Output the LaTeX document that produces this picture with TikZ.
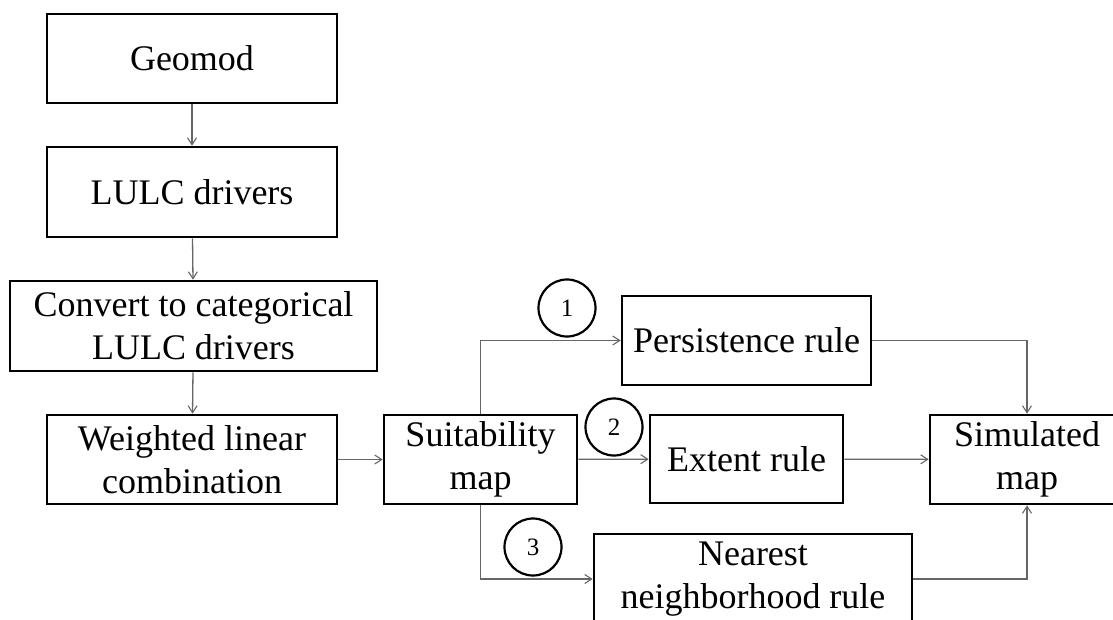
\documentclass[tikz,border=0pt]{standalone}
\usepackage{fontspec}
\setmainfont{Liberation Serif}
\usetikzlibrary{arrows.meta}
\begin{document}
\begin{tikzpicture}[x=1pt,y=-1pt,
  box/.style={draw=black,line width=2.6pt,rectangle,inner sep=0pt,align=center,
    font=\fontsize{36}{43}\selectfont},
  num/.style={draw=black,line width=2.2pt,circle,minimum size=57pt,inner sep=0pt,
    font=\fontsize{25}{30}\selectfont},
  conn/.style={draw=black!60,line width=1.3pt,-{Straight Barb[length=7pt,width=9pt,line width=1.1pt]}}]
\useasboundingbox (0,0) rectangle (1113,619);
\clip (0,0) rectangle (1113,619);
\node[box,minimum width=290pt,minimum height=89pt] (geomod) at (192,58.5) {Geomod};
\node[box,minimum width=290pt,minimum height=90pt] (lulc) at (192,192) {LULC drivers};
\node[box,minimum width=367pt,minimum height=90pt] (convert) at (193.5,326) {Convert to categorical\\LULC drivers};
\node[box,minimum width=290pt,minimum height=89pt] (weighted) at (192,459.5) {Weighted linear\\combination};
\node[box,minimum width=193pt,minimum height=89pt] (suit) at (480.5,459.5) {Suitability\\map};
\node[box,minimum width=249pt,minimum height=89pt] (persist) at (746.5,340.5) {Persistence rule};
\node[box,minimum width=193pt,minimum height=88pt] (extent) at (746.5,459) {Extent rule};
\node[box,minimum width=194pt,minimum height=89pt] (sim) at (1027,459.5) {Simulated\\map};
\node[box,minimum width=318pt,minimum height=90pt] (nearest) at (753,579) {Nearest\\neighborhood rule};
\node[num] (c1) at (567,308) {1};
\node[num] (c2) at (614,427) {2};
\node[num] (c3) at (533,547) {3};
\draw[conn] (geomod) -- (lulc);
\draw[conn] (lulc) -- (convert);
\draw[conn] (convert) -- (weighted);
\draw[conn] (weighted) -- (suit);
\draw[conn] (suit.north) |- (persist.west);
\draw[conn] (suit) -- (extent);
\draw[conn] (suit.south) |- (nearest.west);
\draw[conn] (persist.east) -| (sim.north);
\draw[conn] (extent) -- (sim);
\draw[conn] (nearest.east) -| (sim.south);
\end{tikzpicture}
\end{document}
